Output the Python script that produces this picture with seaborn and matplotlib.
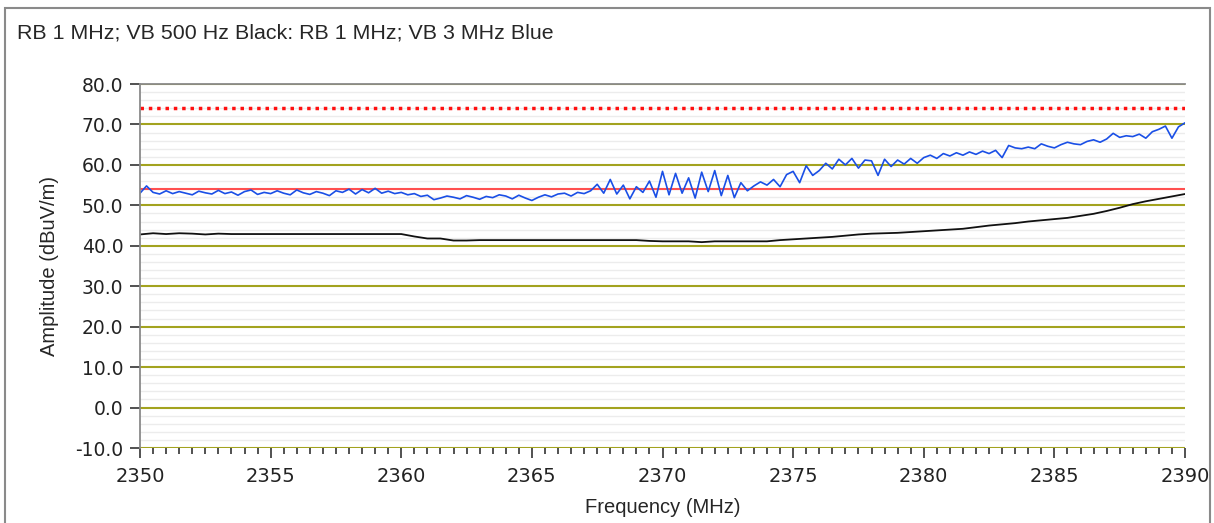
import numpy as np
import pandas as pd
import seaborn as sns
import matplotlib.pyplot as plt
from matplotlib.patches import Rectangle
from matplotlib.ticker import MultipleLocator

# Blue trace (RB 1 MHz; VB 3 MHz), one value every 0.25 MHz from 2350 to 2390
freq_blue = np.arange(2350, 2390.001, 0.25)
amp_blue = [
    53.0, 54.8, 53.2, 52.8, 53.6, 52.9, 53.4, 53.0,
    52.6, 53.5, 53.1, 52.8, 53.7, 52.9, 53.3, 52.5,
    53.4, 53.8, 52.7, 53.2, 52.9, 53.6, 53.0, 52.6,
    53.8, 53.1, 52.7, 53.4, 53.0, 52.4, 53.6, 53.2,
    54.0, 52.8, 53.9, 53.1, 54.2, 53.0, 53.5, 52.9,
    53.2, 52.6, 52.9, 52.2, 52.5, 51.4, 51.8, 52.3,
    52.0, 51.6, 52.4, 52.0, 51.5, 52.2, 51.9, 52.6,
    52.3, 51.6, 52.5, 51.8, 51.2, 52.0, 52.6, 52.1,
    52.8, 53.0, 52.3, 53.2, 52.9, 53.6, 55.2, 53.0,
    56.4, 52.8, 55.0, 51.6, 54.6, 53.2, 56.0, 52.0,
    58.4, 52.6, 57.9, 53.0, 56.8, 51.8, 58.2, 53.4,
    58.6, 52.4, 57.4, 51.9, 55.6, 53.6, 54.8, 55.8,
    55.0, 56.4, 54.6, 57.6, 58.4, 55.6, 59.8, 57.4,
    58.6, 60.4, 59.0, 61.4, 60.0, 61.6, 59.2, 61.2,
    61.0, 57.4, 61.4, 59.6, 61.2, 60.2, 61.6, 60.4,
    61.8, 62.4, 61.6, 62.8, 62.2, 63.0, 62.4, 63.2,
    62.6, 63.4, 62.8, 63.6, 61.8, 64.8, 64.2, 64.0,
    64.4, 64.0, 65.2, 64.6, 64.2, 65.0, 65.6, 65.2,
    65.0, 65.8, 66.2, 65.6, 66.4, 67.8, 66.8, 67.2,
    67.0, 67.6, 66.6, 68.2, 68.8, 69.6, 66.6, 69.4,
    70.4,
]

# Black trace (RB 1 MHz; VB 500 Hz), one value every 0.5 MHz
freq_black = np.arange(2350, 2390.001, 0.5)
amp_black = [
    42.8, 43.1, 42.9, 43.1, 43.0, 42.8, 43.0, 42.9, 42.9, 42.9,
    42.9, 42.9, 42.9, 42.9, 42.9, 42.9, 42.9, 42.9, 42.9, 42.9,
    42.9, 42.3, 41.8, 41.8, 41.3, 41.3, 41.4, 41.4, 41.4, 41.4,
    41.4, 41.4, 41.4, 41.4, 41.4, 41.4, 41.4, 41.4, 41.4, 41.2,
    41.1, 41.1, 41.1, 40.9, 41.1, 41.1, 41.1, 41.1, 41.1, 41.4,
    41.6, 41.8, 42.0, 42.2, 42.5, 42.8, 43.0, 43.1, 43.2, 43.4,
    43.6, 43.8, 44.0, 44.2, 44.6, 45.0, 45.3, 45.6, 46.0, 46.3,
    46.6, 46.9, 47.4, 47.9, 48.6, 49.4, 50.3, 51.0, 51.6, 52.2,
    52.8,
]

limit_peak = 74.0
limit_avg = 54.0

df_blue = pd.DataFrame({"freq": freq_blue, "amp": amp_blue})
df_black = pd.DataFrame({"freq": freq_black, "amp": amp_black})

sns.set_style("white")
plt.rcParams["font.family"] = ["DejaVu Sans"]
label_font = ["Liberation Sans", "DejaVu Sans"]

fig = plt.figure(figsize=(12.14, 5.23), dpi=100)
ax = fig.add_axes([140 / 1214, 1 - 448 / 523, 1045 / 1214, 364 / 523])

# grid: olive major every 10, pale grey minor every 2
ax.yaxis.set_major_locator(MultipleLocator(10))
ax.yaxis.set_minor_locator(MultipleLocator(2))
ax.xaxis.set_major_locator(MultipleLocator(5))
ax.xaxis.set_minor_locator(MultipleLocator(0.5))
ax.grid(False)
ax.grid(axis="y", which="minor", color="#ececec", lw=1)
ax.grid(axis="y", which="major", color="#a3a31f", lw=1.5)
ax.set_axisbelow(True)

ax.axhline(limit_peak, color="#ff1010", lw=2.5, ls=(0, (1, 1.4)))
ax.axhline(limit_avg, color="#ff5050", lw=1.5)

sns.lineplot(data=df_black, x="freq", y="amp", color="#111111", lw=1.3, ax=ax)
sns.lineplot(data=df_blue, x="freq", y="amp", color="#1a4fe6", lw=1.2, ax=ax)

ax.set_xlim(2350, 2390)
ax.set_ylim(-10, 80)

for s in ["right", "bottom"]:
    ax.spines[s].set_visible(False)
for s in ["left", "top"]:
    ax.spines[s].set_color("#8a8a8a")
    ax.spines[s].set_linewidth(1.3)

ax.yaxis.set_major_formatter(plt.FuncFormatter(lambda v, p: f"{v:.1f}"))
ax.tick_params(axis="y", which="major", left=True, length=7, width=1.2, color="#333333",
               labelsize=13.5, pad=5, labelcolor="#222222")
ax.tick_params(axis="y", which="minor", left=False)
ax.tick_params(axis="x", which="major", bottom=True, length=7.5, width=1.2, color="#333333",
               labelsize=14, pad=6, labelcolor="#222222")
ax.tick_params(axis="x", which="minor", bottom=True, length=4.5, width=1.2, color="#333333")

ax.set_xlabel("Frequency (MHz)", fontsize=14.5, labelpad=9, family=label_font)
ax.set_ylabel("Amplitude (dBuV/m)", fontsize=14.5, labelpad=12, family=label_font)

fig.text(17 / 1214, 1 - 33 / 523, "RB 1 MHz; VB 500 Hz Black: RB 1 MHz; VB 3 MHz Blue",
         fontsize=15.4, va="center", ha="left", family=label_font)

fig.patches.append(Rectangle((5 / 1214, -0.01), 1205 / 1214, 1 - 8 / 523 + 0.01,
                             transform=fig.transFigure, fill=False,
                             edgecolor="#8a8a8a", lw=1.5))

fig.savefig("out.png", dpi=100)
